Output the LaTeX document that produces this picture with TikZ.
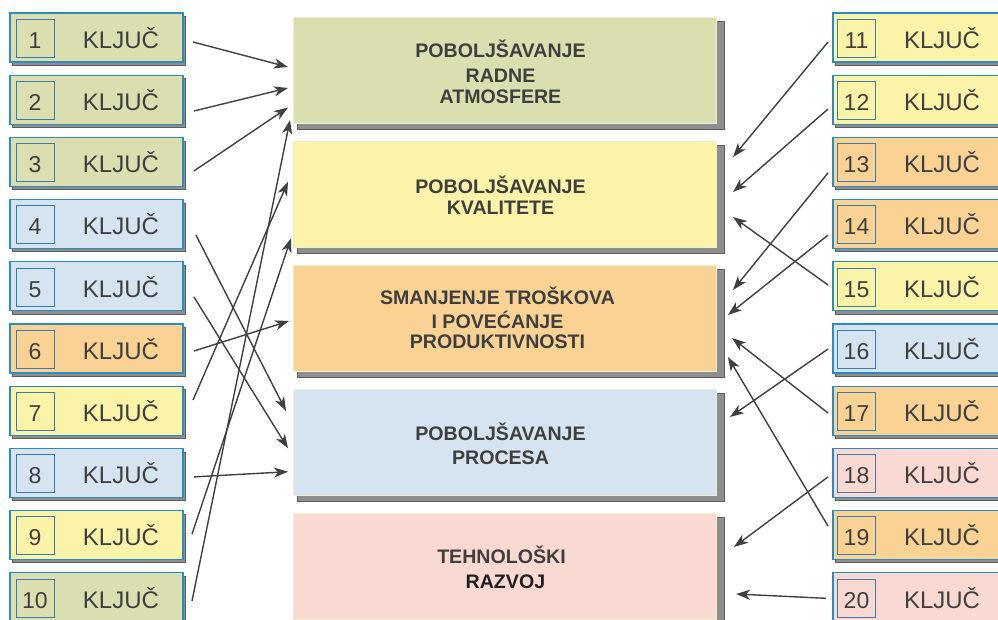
\documentclass[tikz,border=0pt]{standalone}
\usepackage{fontspec}
\setmainfont{Liberation Sans}
\usetikzlibrary{arrows.meta,calc}
\definecolor{cgreen}{HTML}{DBDFAF}
\definecolor{cyellow}{HTML}{FBF4A8}
\definecolor{corange}{HTML}{F9D294}
\definecolor{cblue}{HTML}{D6E4F1}
\definecolor{cpink}{HTML}{FBD9D3}
\definecolor{kblue}{HTML}{2B8CC4}
\definecolor{nblue}{HTML}{3A7CAD}
\definecolor{txt}{HTML}{3F3F3F}
\definecolor{arrgray}{HTML}{404040}
\definecolor{shgray}{HTML}{8E8E8E}
\definecolor{shdark}{HTML}{5E5E5E}
\definecolor{gborder}{HTML}{EDEFD0}
\begin{document}
\begin{tikzpicture}[x=1pt,y=-1pt,
  keybox/.style={draw=kblue,line width=1.3pt,minimum width=173pt,minimum height=49pt,inner sep=0pt,outer sep=0pt},
  numbox/.style={draw=nblue,line width=0.9pt,minimum width=38pt,minimum height=38pt,inner sep=0pt,outer sep=0pt},
  numtext/.style={font=\fontsize{23}{23}\selectfont,text=txt,inner sep=0pt,anchor=base},
  keytext/.style={font=\fontsize{24}{24}\selectfont,text=txt,inner sep=0pt,anchor=base},
  shadowbox/.style={fill=shgray,draw=shdark,line width=0.6pt},
  goalbox/.style={draw=gborder,line width=0.8pt,minimum width=423pt,minimum height=106pt,inner sep=0pt,outer sep=0pt},
  goaltext/.style={font=\bfseries\fontsize{19.6}{22}\selectfont,text=txt,align=center,inner sep=0pt},
  arr/.style={draw=arrgray,line width=1.4pt,-{Stealth[length=14pt,width=10pt,inset=4pt]}}
]
\useasboundingbox (0,0) rectangle (998,619);
\clip (0,0) rectangle (998,619);
\fill[white] (0,0) rectangle (998,619);

% left key boxes
\foreach \i/\c in {1/cgreen,2/cgreen,3/cgreen,4/cblue,5/cblue,6/corange,7/cyellow,8/cblue,9/cyellow,10/cgreen} {
  \pgfmathsetmacro\yy{37.5+62.2*(\i-1)}
  \draw[shadowbox] (12.5,\yy-21) rectangle (185.5,\yy+27.5);
  \node[keybox,fill=\c] (L\i) at (96.5,\yy) {};
  \node[numbox] (LN\i) at (35,\yy+0.7) {};
  \node[numtext] (LNT\i) at (35,\yy+10.8) {\i};
  \node[keytext] (LT\i) at (121,\yy+10.8) {KLJUČ};
}

% right key boxes
\foreach \i/\c in {11/cyellow,12/cyellow,13/corange,14/corange,15/cyellow,16/cblue,17/corange,18/cpink,19/corange,20/cpink} {
  \pgfmathsetmacro\yy{37.5+62.2*(\i-11)}
  \draw[shadowbox] (835.5,\yy-21) rectangle (1008.5,\yy+27.5);
  \node[keybox,fill=\c] (R\i) at (919.5,\yy) {};
  \node[numbox] (RN\i) at (856.5,\yy+0.7) {};
  \node[numtext] (RNT\i) at (856.5,\yy+10.8) {\i};
  \node[keytext] (RT\i) at (942,\yy+10.8) {KLJUČ};
}

% central goal boxes
\foreach \j/\c/\cy in {1/cgreen/70,2/cyellow/194.5,3/corange/318,4/cblue/442,5/cpink/566} {
  \draw[shadowbox] (297,\cy-49) rectangle (724,\cy+59);
  \node[goalbox,fill=\c] (C\j) at (504.5,\cy) {};
}
\node[goaltext] (C1t) at ($(C1)+(-4,1.7)$) {POBOLJŠAVANJE\\[3pt]RADNE\\[-0.3pt]ATMOSFERE};
\node[goaltext] (C2t) at ($(C2)+(-4,1)$) {POBOLJŠAVANJE\\[-1pt]KVALITETE};
\node[goaltext] (C3t) at ($(C3)+(-7,0.3)$) {SMANJENJE TROŠKOVA\\[2pt]I POVEĆANJE\\[-2pt]PRODUKTIVNOSTI};
\node[goaltext] (C4t) at ($(C4)+(-4,2.2)$) {POBOLJŠAVANJE\\[2pt]PROCESA};
\node[goaltext] (C5t) at ($(C5)+(-3,1.8)$) {TEHNOLOŠKI\\[3pt]{\color{black!88}\hspace*{0.4em}RAZVOJ}};

% arrows from the left
\draw[arr] ($(L1.east)+(10,4.5)$) -- ($(C1.west)+(-5,-3)$);
\draw[arr] ($(L2.east)+(11,11.3)$) -- ($(C1.west)+(-5,18)$);
\draw[arr] ($(L3.east)+(11,9)$) -- ($(C1.west)+(-5,37.5)$);
\draw[arr] ($(L4.east)+(13,11)$) -- ($(C4.west)+(-7,-31)$);
\draw[arr] ($(L5.east)+(11,10.7)$) -- ($(C4.west)+(-5,6.3)$);
\draw[arr] ($(L6.east)+(11,2.5)$) -- ($(C3.west)+(-4,3)$);
\draw[arr] ($(L7.east)+(10,-10.7)$) -- ($(C2.west)+(-5,-12.8)$);
\draw[arr] ($(L8.east)+(11,4)$) -- ($(C4.west)+(-5,29.7)$);
\draw[arr] ($(L9.east)+(9,-1)$) -- ($(C2.west)+(-2,43.8)$);
\draw[arr] ($(L10.east)+(9,3.7)$) -- ($(C1.west)+(-3,50)$);

% arrows from the right
\draw[arr] ($(R11.west)+(-5,4.5)$) -- ($(C2.east)+(17,-37.5)$);
\draw[arr] ($(R12.west)+(-5,9.3)$) -- ($(C2.east)+(17,-2.5)$);
\draw[arr] ($(R13.west)+(-5,11)$) -- ($(C3.east)+(17,-28)$);
\draw[arr] ($(R14.west)+(-5,11)$) -- ($(C3.east)+(12,-3)$);
\draw[arr] ($(R15.west)+(-5,-1.3)$) -- ($(C2.east)+(17,22.5)$);
\draw[arr] ($(R16.west)+(-5,0.5)$) -- ($(C4.east)+(14,-25)$);
\draw[arr] ($(R17.west)+(-5,2.3)$) -- ($(C3.east)+(16,20)$);
\draw[arr] ($(R18.west)+(-5,4)$) -- ($(C5.east)+(18,-19)$);
\draw[arr] ($(R19.west)+(-5,-9)$) -- ($(C3.east)+(12,39)$);
\draw[arr] ($(R20.west)+(-7,1)$) -- ($(C5.east)+(20,28)$);
\end{tikzpicture}
\end{document}
